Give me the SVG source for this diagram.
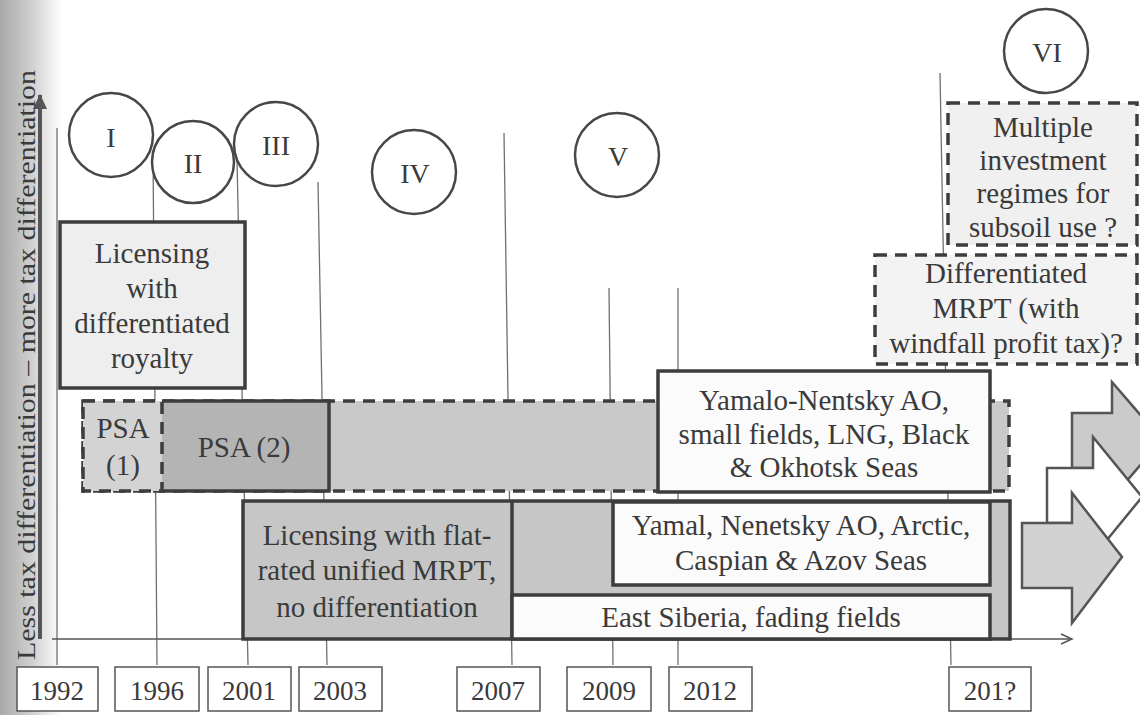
<svg xmlns="http://www.w3.org/2000/svg" width="1140" height="715" viewBox="0 0 1140 715">
<defs>
<linearGradient id="lg" x1="0" y1="0" x2="1" y2="0">
<stop offset="0" stop-color="#a9a9a9"/>
<stop offset="0.5" stop-color="#cfcfcf"/>
<stop offset="1" stop-color="#ffffff"/>
</linearGradient>
<marker id="open" markerWidth="14" markerHeight="12" refX="12" refY="6" orient="auto" markerUnits="userSpaceOnUse">
<path d="M1,1 L12,6 L1,11" fill="none" stroke="#555" stroke-width="1.5"/>
</marker>
<marker id="closed" markerWidth="16" markerHeight="14" refX="14" refY="7" orient="auto" markerUnits="userSpaceOnUse">
<path d="M0,0 L15,7 L0,14 Z" fill="#555" stroke="none"/>
</marker>
</defs>
<style>
text{font-family:Liberation Serif,Times New Roman,Times,Tinos,Noto Serif,DejaVu Serif,serif;fill:#3a3a3a;text-anchor:middle}
.t{font-size:29px}
.y{font-size:27px}
.r{font-size:28px}
.tick{stroke:#707070;stroke-width:1.3;fill:none}
.solid{stroke:#3d3d3d;stroke-width:3.5}
.dash{stroke:#3d3d3d;stroke-width:3.5;stroke-dasharray:12 8}
.circ{fill:#fff;stroke:#474747;stroke-width:2.5}
.yb{fill:#fff;stroke:#555;stroke-width:1.5}
.big{stroke:#555;stroke-width:2.5;stroke-linejoin:miter}
</style>
<rect x="0" y="0" width="1140" height="715" fill="#fff"/>
<rect x="0" y="0" width="62" height="715" fill="url(#lg)"/>

<g id="connectors">
<line class="tick" x1="57" y1="128" x2="57" y2="665"/>
<line class="tick" x1="153" y1="150" x2="157" y2="665"/>
<line class="tick" x1="237" y1="160" x2="248" y2="665"/>
<line class="tick" x1="318" y1="182" x2="327" y2="665"/>
<line class="tick" x1="504" y1="133" x2="512" y2="665"/>
<line class="tick" x1="609" y1="288" x2="613" y2="665"/>
<line class="tick" x1="678" y1="288" x2="678" y2="665"/>
<line class="tick" x1="940" y1="73" x2="951" y2="665"/>
<line x1="52" y1="639" x2="1072" y2="639" stroke="#555" stroke-width="1.5" marker-end="url(#open)"/>
<line x1="40" y1="639" x2="40" y2="95" stroke="#555" stroke-width="4" marker-end="url(#closed)"/>
</g>

<text transform="translate(35,365) rotate(-90)" textLength="590" lengthAdjust="spacingAndGlyphs" style="font-size:26px">Less tax differentiation – more tax differentiation</text>

<g id="circle-I"><circle class="circ" cx="111" cy="135" r="42"/><text class="r" x="111" y="147">I</text></g>
<g id="circle-II"><circle class="circ" cx="193" cy="162" r="41"/><text class="r" x="193" y="173">II</text></g>
<g id="circle-III"><circle class="circ" cx="276" cy="144" r="42"/><text class="r" x="276" y="155">III</text></g>
<g id="circle-IV"><circle class="circ" cx="414" cy="172" r="42"/><text class="r" x="415" y="183">IV</text></g>
<g id="circle-V"><circle class="circ" cx="617" cy="155" r="42"/><text class="r" x="618" y="166">V</text></g>
<g id="circle-VI"><circle class="circ" cx="1046" cy="51" r="42"/><text class="r" x="1047" y="62">VI</text></g>

<g id="licensing-royalty">
<rect x="60" y="222" width="185" height="166" fill="#eeeeee" class="solid"/>
<text class="t" x="152" y="263">Licensing</text>
<text class="t" x="152" y="298">with</text>
<text class="t" x="152" y="333">differentiated</text>
<text class="t" x="152" y="368">royalty</text>
</g>

<g id="psa-band">
<rect x="83" y="401" width="926" height="90" fill="#c9c9c9" class="dash"/>
</g>
<g id="psa-2">
<path d="M162,401 H329 V491 H162" fill="#b4b4b4" class="solid"/>
<text class="t" x="244" y="457">PSA (2)</text>
</g>
<g id="psa-1">
<rect x="83" y="401" width="79" height="90" fill="#d3d3d3" class="dash"/>
<text class="t" x="123" y="438">PSA</text>
<text class="t" x="123" y="475">(1)</text>
</g>

<g id="yamalo-nentsky">
<rect x="658" y="371" width="332" height="121" fill="#fbfbfb" class="solid"/>
<text class="t" x="824" y="410">Yamalo-Nentsky AO,</text>
<text class="t" x="824" y="444">small fields, LNG, Black</text>
<text class="t" x="824" y="477">&amp; Okhotsk Seas</text>
</g>

<g id="licensing-flat">
<rect x="243" y="501" width="767" height="138" fill="#c6c6c6" class="solid"/>
<line x1="512" y1="501" x2="512" y2="639" class="solid"/>
<text class="t" x="377" y="545">Licensing with flat-</text>
<text class="t" x="377" y="580">rated unified MRPT,</text>
<text class="t" x="377" y="617">no differentiation</text>
</g>

<g id="yamal-nenetsky">
<rect x="613" y="502" width="377" height="83" fill="#fbfbfb" class="solid"/>
<text class="t" x="801" y="535">Yamal, Nenetsky AO, Arctic,</text>
<text class="t" x="801" y="570">Caspian &amp; Azov Seas</text>
</g>

<g id="east-siberia">
<rect x="512" y="595" width="478" height="44" fill="#fbfbfb" class="solid"/>
<text class="t" x="751" y="627">East Siberia, fading fields</text>
</g>

<g id="differentiated-mrpt">
<rect x="875" y="255" width="262" height="109" fill="#f3f3f3" class="dash"/>
<text class="t" x="1006" y="283">Differentiated</text>
<text class="t" x="1006" y="318">MRPT (with</text>
<text class="t" x="1006" y="353">windfall profit tax)?</text>
</g>

<g id="multiple-regimes">
<rect x="948" y="103" width="189" height="142" fill="#f0f0f0" class="dash"/>
<text class="t" x="1043" y="137">Multiple</text>
<text class="t" x="1043" y="170">investment</text>
<text class="t" x="1043" y="203">regimes for</text>
<text class="t" x="1043" y="237">subsoil use ?</text>
</g>

<g id="arrows-right">
<polygon class="big" fill="#cbcbcb" points="1072,413 1112,413 1112,382 1162,440 1112,498 1112,468 1072,468"/>
<polygon class="big" fill="#ffffff" points="1047,468 1093,468 1093,437 1142,497 1093,557 1093,523 1047,523"/>
<polygon class="big" fill="#d2d2d2" points="1022,523 1072,523 1072,493 1122,557 1072,623 1072,588 1022,588"/>
</g>

<g id="years">
<g id="y1992"><rect class="yb" x="17" y="667" width="81" height="44"/><text class="y" x="57" y="700">1992</text></g>
<g id="y1996"><rect class="yb" x="115" y="667" width="84" height="44"/><text class="y" x="157" y="700">1996</text></g>
<g id="y2001"><rect class="yb" x="208" y="667" width="83" height="44"/><text class="y" x="249" y="700">2001</text></g>
<g id="y2003"><rect class="yb" x="299" y="667" width="83" height="44"/><text class="y" x="340" y="700">2003</text></g>
<g id="y2007"><rect class="yb" x="457" y="667" width="83" height="44"/><text class="y" x="498" y="700">2007</text></g>
<g id="y2009"><rect class="yb" x="567" y="667" width="84" height="44"/><text class="y" x="609" y="700">2009</text></g>
<g id="y2012"><rect class="yb" x="669" y="667" width="83" height="44"/><text class="y" x="710" y="700">2012</text></g>
<g id="y201x"><rect class="yb" x="949" y="667" width="82" height="44"/><text class="y" x="990" y="700">201?</text></g>
</g>
</svg>
